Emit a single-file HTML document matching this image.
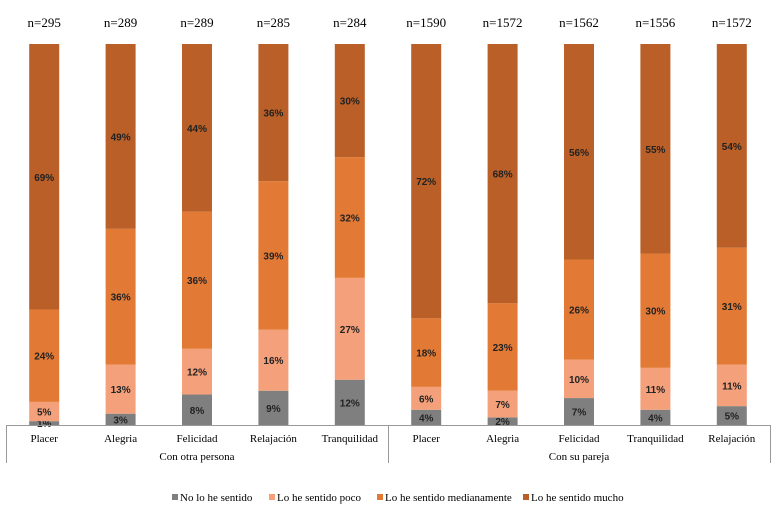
<!DOCTYPE html>
<html><head><meta charset="utf-8"><style>
body{margin:0;background:#fff;font-family:"Liberation Serif",serif}
svg text{font-family:"Liberation Serif",serif}
.lbl{font-family:"Liberation Sans",sans-serif;font-weight:bold;font-size:10px}
</style></head><body>
<svg id="chart" width="779" height="515" xmlns="http://www.w3.org/2000/svg"></svg>
<script>
const categories=["Placer","Alegria","Felicidad","Relajación","Tranquilidad","Placer","Alegria","Felicidad","Tranquilidad","Relajación"];
const nLabels=["n=295","n=289","n=289","n=285","n=284","n=1590","n=1572","n=1562","n=1556","n=1572"];
const groups=["Con otra persona","Con su pareja"];
const seriesNames=["No lo he sentido","Lo he sentido poco","Lo he sentido medianamente","Lo he sentido mucho"];
const noSentido=[1,3,8,9,12,4,2,7,4,5];
const poco=[5,13,12,16,27,6,7,10,11,11];
const medio=[24,36,36,39,32,18,23,26,30,31];
const mucho=[69,49,44,36,30,72,68,56,55,54];
const colors=["#7f7f7f","#f4a07a","#e27a35","#b95f27"];
const svg=document.getElementById('chart');
const NS="http://www.w3.org/2000/svg";
function mk(t,a,txt){const e=document.createElementNS(NS,t);for(const k in a)e.setAttribute(k,a[k]);if(txt!=null)e.textContent=txt;svg.appendChild(e);return e;}
const yTop=44,yBottom=425,x0=6,x1=770,bw=30;
const step=(x1-x0)/categories.length;
const xc=i=>x0+step*(i+0.5);
const series=[noSentido,poco,medio,mucho];
categories.forEach((c,i)=>{
  const total=series.reduce((s,a)=>s+a[i],0);
  const y=v=>(yBottom-yTop)*v/total;
  let cur=yBottom;
  series.forEach((arr,s)=>{
    const h=y(arr[i]);
    const r=mk('rect',{x:xc(i)-bw/2,y:cur-h,width:bw,height:h,fill:colors[s]});
    
    
    const t=mk('text',{x:xc(i),y:cur-h/2+4,'text-anchor':'middle',class:'lbl',fill:'#222'},arr[i]+'%');
    
    
    cur-=h;
  });
  const n=mk('text',{x:xc(i),y:27,'text-anchor':'middle','font-size':'13'},nLabels[i]);
  
  
  const cl=mk('text',{x:xc(i),y:442,'text-anchor':'middle','font-size':'11'},c);
  
  
});
mk('line',{x1:x0,y1:yBottom+0.5,x2:x1,y2:yBottom+0.5,stroke:'#999'});
[x0,(x0+x1)/2,x1].forEach(x=>mk('line',{x1:x+0.5,y1:yBottom,x2:x+0.5,y2:463,stroke:'#999'}));
groups.forEach((g,k)=>{
  const t=mk('text',{x:x0+(x1-x0)*(k*0.5+0.25),y:460,'text-anchor':'middle','font-size':'11'},g);
  
  
});
const lx=[172,269,377,523];
seriesNames.forEach((s,k)=>{
  const r=mk('rect',{x:lx[k],y:494,width:6,height:6,fill:colors[k]});
  
  
  const t=mk('text',{x:lx[k]+8,y:501,'font-size':'11'},s);
  
  
});
</script>
</body></html>
